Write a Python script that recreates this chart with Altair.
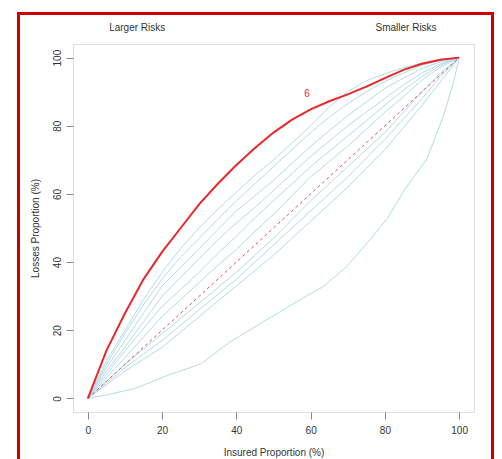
import altair as alt
import pandas as pd

# ---------------- data ----------------
x_pts = [0, 5, 10, 15, 20, 25, 30, 35, 40, 45, 50, 55, 60, 65, 70, 75, 80, 85, 90, 95, 100]

red_y = [0, 14, 25, 35, 43, 50, 57, 63, 68.5, 73.5, 78, 81.8, 84.8, 87.2, 89.2, 91.5, 94, 96.4, 98.2, 99.4, 100]

blue_b1 = [0, 11, 20, 29, 37, 44, 50, 55.5, 60.5, 65.5, 70, 75, 80, 85.5, 90, 93.2, 95.3, 97, 98.5, 99.5, 100]
blue_b2 = [0, 10, 19, 27.5, 35, 41.5, 47, 52.5, 58, 63, 68, 73, 78, 82.5, 86.5, 90, 93, 95.5, 97.8, 99.2, 100]
blue_b3 = [0, 9, 17, 25, 33, 38.5, 44, 49.5, 55, 59.5, 64, 69, 74, 78.5, 83, 87, 91, 94, 96.8, 98.8, 100]
blue_b4 = [0, 8, 15, 22.5, 30, 35.5, 41, 46.5, 51.5, 56, 61, 66, 71, 75.5, 80, 84, 88, 92, 95.5, 98.2, 100]
blue_b5 = [0, 7, 14, 20.5, 27, 32, 37, 42.5, 47.6, 53, 58, 63, 68, 72.5, 77, 81.5, 86, 90.5, 94.5, 97.8, 100]
blue_b6 = [0, 6, 12, 18, 24, 29, 34, 39, 43.7, 49, 54, 59.5, 65, 69.5, 74, 79, 84, 88.5, 93.5, 97.2, 100]
blue_b7 = [0, 5, 10, 14.5, 19, 23.5, 28, 32.5, 37, 42, 47, 52.5, 58, 63, 68, 73, 78, 84, 90, 95.5, 100]
blue_b8 = [0, 4.5, 9, 13, 17, 21.5, 26, 30.5, 35, 40, 45, 50, 55, 60, 65, 70.5, 76, 82, 88, 94.5, 100]
blue_b9 = [0, 4, 8, 11.5, 15, 19.5, 24, 28.5, 33, 37.5, 42, 47, 52, 57, 62, 67.5, 73, 79.5, 86, 93, 100]

low_x = [0, 4.6, 12.7, 21.6, 30.6, 38.3, 47.3, 56.3, 63.4, 69.7, 76, 80.5, 85.4, 91.3, 95.8, 98.5, 100]
low_y = [0, 0.9, 2.9, 6.8, 10.2, 16.6, 22.5, 28.4, 32.8, 38.7, 46.6, 52.5, 61.4, 70.2, 83, 92.8, 100]

diag_x = [0, 100]
diag_y = [0, 100]

tick_vals = [0, 20, 40, 60, 80, 100]

corner_labels = ["Larger Risks", "Smaller Risks"]
corner_x = [13.3, 85.7]

curve_label = ["6"]
curve_label_x = [59]
curve_label_y = [89.2]

# ---------------- tables ----------------
blue_sets = [blue_b1, blue_b2, blue_b3, blue_b4, blue_b5, blue_b6, blue_b7, blue_b8, blue_b9]
rows = []
for i, ys in enumerate(blue_sets):
    for xv, yv in zip(x_pts, ys):
        rows.append({"x": xv, "y": yv, "curve": f"b{i+1}"})
for xv, yv in zip(low_x, low_y):
    rows.append({"x": xv, "y": yv, "curve": "low"})
blue_df = pd.DataFrame(rows)
red_df = pd.DataFrame({"x": x_pts, "y": red_y})
diag_df = pd.DataFrame({"x": diag_x, "y": diag_y})
corner_df = pd.DataFrame({"label": corner_labels, "x": corner_x})
lab_df = pd.DataFrame({"label": curve_label, "x": curve_label_x, "y": curve_label_y})

FONT = "Liberation Sans"

xscale = alt.Scale(domain=[-4, 104], nice=False, zero=False)
yscale = alt.Scale(domain=[-4, 104], nice=False, zero=False)

xaxis = alt.Axis(values=tick_vals, title="Insured Proportion (%)", grid=False, domain=False,
                 tickSize=7, tickColor="#888888", labelColor="#333333", labelFontSize=10,
                 labelFont=FONT, labelPadding=6, titleFont=FONT, titleFontSize=10,
                 titleFontWeight="normal", titleColor="#333333", titleBaseline="middle", titleY=40)
yaxis = alt.Axis(values=tick_vals, title="Losses Proportion (%)", grid=False, domain=False,
                 tickSize=7, tickColor="#888888", labelColor="#333333", labelFontSize=10,
                 labelFont=FONT, labelAngle=270, labelAlign="center", labelBaseline="bottom",
                 labelPadding=4, titleFont=FONT, titleFontSize=10, titleFontWeight="normal",
                 titleColor="#333333", titleBaseline="middle", titleX=-38, titleAngle=270)

blue = alt.Chart(blue_df).mark_line(color="#b3dbe8", strokeWidth=1).encode(
    x=alt.X("x:Q", scale=xscale, axis=xaxis),
    y=alt.Y("y:Q", scale=yscale, axis=yaxis),
    detail="curve:N",
)

diag = alt.Chart(diag_df).mark_line(color="#e0505a", strokeWidth=1, strokeDash=[3, 3]).encode(
    x=alt.X("x:Q", scale=xscale), y=alt.Y("y:Q", scale=yscale)
)

red = alt.Chart(red_df).mark_line(color="#e8282b", strokeWidth=2).encode(
    x=alt.X("x:Q", scale=xscale), y=alt.Y("y:Q", scale=yscale)
)

corner = alt.Chart(corner_df).mark_text(font=FONT, fontSize=10, color="#333333",
                                        baseline="middle", align="center", clip=False).encode(
    x=alt.X("x:Q", scale=xscale), y=alt.value(-16), text="label:N"
)

lab = alt.Chart(lab_df).mark_text(font=FONT, fontSize=10, color="#e8282b",
                                  baseline="middle", align="center").encode(
    x=alt.X("x:Q", scale=xscale), y=alt.Y("y:Q", scale=yscale), text="label:N"
)

frame = alt.Chart(alt.Data(values=[{"a": 1}])).mark_rect(
    filled=False, stroke="#cc0000", strokeWidth=3, clip=False
).encode(
    x=alt.value(-54.5), x2=alt.value(419.5), y=alt.value(-30.5), y2=alt.value(480)
)

chart = alt.layer(blue, diag, red, corner, lab, frame).properties(
    width=401, height=368,
    autosize=alt.AutoSizeParams(type="none"),
    padding={"left": 65, "top": 36, "right": 20, "bottom": 47},
).configure_view(stroke="#999999", strokeWidth=1.2).configure(background="white")

chart.save("out.html", embed_options={"renderer": "svg", "actions": False})
